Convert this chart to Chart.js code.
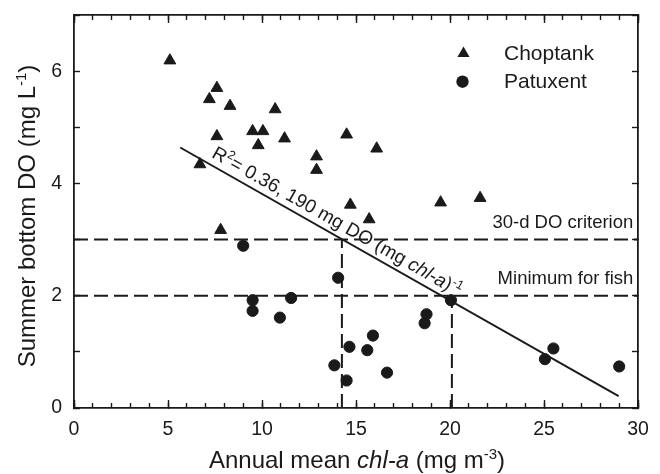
<!DOCTYPE html>
<html><head><meta charset="utf-8">
<script src="https://cdn.jsdelivr.net/npm/chart.js@4/dist/chart.umd.min.js"></script>
<style>html,body{margin:0;padding:0;background:#fff}#wrap{width:660px;height:474px}</style>
</head><body><div id="wrap"><canvas id="c" width="660" height="474"></canvas></div>
<script>
// ---- data ----
const choptankX = [5.1, 7.6, 7.2, 8.3, 10.7, 9.5, 10.05, 7.6, 11.2, 9.8, 14.5, 12.9, 12.9, 6.7, 14.7, 16.1, 19.5, 21.6, 15.7, 7.8];
const choptankY = [6.19, 5.7, 5.5, 5.38, 5.32, 4.93, 4.93, 4.84, 4.8, 4.68, 4.87, 4.48, 4.24, 4.34, 3.62, 4.62, 3.66, 3.74, 3.36, 3.17];
const patuxentX = [9.0, 9.5, 9.5, 11.55, 10.95, 14.05, 14.65, 13.85, 14.5, 15.9, 15.6, 16.65, 18.75, 18.65, 20.05, 25.5, 25.05, 29.0];
const patuxentY = [2.89, 1.92, 1.73, 1.96, 1.61, 2.32, 1.09, 0.76, 0.49, 1.29, 1.03, 0.63, 1.67, 1.51, 1.92, 1.06, 0.87, 0.74];
const fitX = [5.65, 28.97];
const fitY = [4.64, 0.21];
const criterionDO = 3;      // 30-d DO criterion
const fishMinDO = 2;        // minimum for fish
const criterionChl = 14.25; // chl-a where fit reaches criterion
const fishMinChl = 20.1;    // chl-a where fit reaches fish minimum
const xTickLabels = ['0', '5', '10', '15', '20', '25', '30'];
const yTickLabels = ['0', '', '2', '', '4', '', '6', ''];
const seriesNames = ['Choptank', 'Patuxent'];

const INK = '#1a1a1a';
const FONT = "'Liberation Sans', Arial, Helvetica, sans-serif";
Chart.defaults.font.family = FONT;
Chart.defaults.color = INK;

const pts = (xs, ys) => xs.map((x, i) => ({x: x, y: ys[i]}));

function fontStr(s) { return (s.italic ? 'italic ' : '') + s.size + 'px ' + FONT; }
function richText(ctx, segs, x, y, align) {
  let total = 0;
  for (const s of segs) { ctx.font = fontStr(s); s.w = ctx.measureText(s.t).width; total += s.w; }
  let cx = align === 'center' ? x - total / 2 : align === 'right' ? x - total : x;
  ctx.textAlign = 'left'; ctx.textBaseline = 'alphabetic';
  for (const s of segs) { ctx.font = fontStr(s); ctx.fillText(s.t, cx, y - (s.rise || 0)); cx += s.w; }
}

const decor = {
  id: 'decor',
  afterDraw(chart) {
    const ctx = chart.ctx;
    const xs = chart.scales.x, ys = chart.scales.y;
    ctx.save();
    ctx.fillStyle = INK;
    // x title
    richText(ctx, [
      {t: 'Annual mean ', size: 24},
      {t: 'chl-a', size: 24, italic: true},
      {t: ' (mg m', size: 24},
      {t: '-3', size: 15, rise: 9},
      {t: ')', size: 24}
    ], 357, 468, 'center');
    // y title
    ctx.save();
    ctx.translate(35, 216);
    ctx.rotate(-Math.PI / 2);
    richText(ctx, [
      {t: 'Summer bottom DO (mg L', size: 24},
      {t: '-1', size: 15, rise: 9},
      {t: ')', size: 24}
    ], 0, 0, 'center');
    ctx.restore();
    // threshold labels
    const rx = xs.getPixelForValue(29.75);
    richText(ctx, [{t: '30-d DO criterion', size: 18.5}], rx, ys.getPixelForValue(criterionDO) - 11.5, 'right');
    richText(ctx, [{t: 'Minimum for fish', size: 18.5}], rx, ys.getPixelForValue(fishMinDO) - 11.5, 'right');
    // regression label along the line
    const p1x = xs.getPixelForValue(fitX[0]), p1y = ys.getPixelForValue(fitY[0]);
    const p2x = xs.getPixelForValue(fitX[1]), p2y = ys.getPixelForValue(fitY[1]);
    const ang = Math.atan2(p2y - p1y, p2x - p1x);
    const tx = 7.09;
    const ty = fitY[0] + (fitY[1] - fitY[0]) * (tx - fitX[0]) / (fitX[1] - fitX[0]);
    ctx.save();
    ctx.translate(xs.getPixelForValue(tx), ys.getPixelForValue(ty));
    ctx.rotate(ang);
    richText(ctx, [
      {t: 'R', size: 19},
      {t: '2', size: 12.5, rise: 7.5},
      {t: '= 0.36, 190 mg DO (mg ', size: 19},
      {t: 'chl-a', size: 19, italic: true},
      {t: ')', size: 19},
      {t: '-1', size: 12.5, rise: 7.5}
    ], 0, -7, 'left');
    ctx.restore();
    // legend
    ctx.fillStyle = INK;
    const tr = 7, cxL = 463.5, cy1 = 53.5;
    ctx.beginPath();
    ctx.moveTo(cxL, cy1 - tr);
    ctx.lineTo(cxL + tr * Math.sin(2 * Math.PI / 3), cy1 - tr * Math.cos(2 * Math.PI / 3));
    ctx.lineTo(cxL + tr * Math.sin(4 * Math.PI / 3), cy1 - tr * Math.cos(4 * Math.PI / 3));
    ctx.closePath(); ctx.fill();
    ctx.beginPath(); ctx.arc(462.5, 81.7, 6.2, 0, Math.PI * 2); ctx.fill();
    richText(ctx, [{t: seriesNames[0], size: 21}], 504, 60, 'left');
    richText(ctx, [{t: seriesNames[1], size: 21}], 504, 88.3, 'left');
    ctx.restore();
  }
};

const dashed = {borderColor: INK, borderWidth: 2, borderDash: [14, 6], pointRadius: 0, showLine: true, fill: false};

function axis(pos, stepSize, tickLen, weight, showLabels, labels) {
  const horiz = pos === 'top' || pos === 'bottom';
  return {
    type: 'linear', position: pos, min: 0, max: horiz ? 30 : 7, weight: weight,
    grid: {display: true, drawOnChartArea: false, drawTicks: true, tickLength: tickLen, tickColor: INK, tickWidth: 1.4},
    border: {display: false},
    ticks: {display: showLabels, stepSize: stepSize, autoSkip: false, maxTicksLimit: 100, maxRotation: 0,
            color: INK, font: {size: 19.5, family: FONT}, padding: 18,
            callback: labels ? (v, i) => labels[i] : () => ''},
    afterFit: (s) => {
      if (horiz) s.height = showLabels ? 66 : 0; else s.width = showLabels ? 74 : 0;
      s.paddingTop = 0; s.paddingBottom = 0; s.paddingLeft = 0; s.paddingRight = 0;
    }
  };
}
const borderOn = {display: true, color: INK, width: 1.8};
function withBorder(a) { a.border = borderOn; return a; }

new Chart(document.getElementById('c'), {
  type: 'scatter',
  data: {
    datasets: [
      {label: seriesNames[0], data: pts(choptankX, choptankY), pointStyle: 'triangle', pointRadius: 6.8,
       backgroundColor: INK, borderColor: INK, borderWidth: 1},
      {label: seriesNames[1], data: pts(patuxentX, patuxentY), pointStyle: 'circle', pointRadius: 5.6,
       backgroundColor: INK, borderColor: INK, borderWidth: 1},
      {label: 'fit', data: pts(fitX, fitY), showLine: true, pointRadius: 0, borderColor: INK, borderWidth: 2},
      Object.assign({label: 'crit', data: pts([0, 30], [criterionDO, criterionDO])}, dashed),
      Object.assign({label: 'fish', data: pts([0, 30], [fishMinDO, fishMinDO])}, dashed),
      Object.assign({label: 'critV', data: pts([criterionChl, criterionChl], [0, criterionDO])}, dashed),
      Object.assign({label: 'fishV', data: pts([fishMinChl, fishMinChl], [0, fishMinDO])}, dashed)
    ]
  },
  options: {
    responsive: false, animation: false, devicePixelRatio: 1,
    layout: {padding: {left: 0, right: 22, top: 15, bottom: 0}},
    plugins: {legend: {display: false}, tooltip: {enabled: false}},
    scales: {
      x: withBorder(axis('bottom', 5, -8, 1, true, xTickLabels)),
      xMinor: axis('bottom', 1, -5, 0, false, null),
      xTop: withBorder(axis('top', 5, -8, 0, false, null)),
      xTopMinor: axis('top', 1, -5, 1, false, null),
      y: withBorder(axis('left', 1, -6, 0, true, yTickLabels)),
      yRight: withBorder(axis('right', 1, -6, 0, false, null))
    }
  },
  plugins: [decor]
});
</script>
</body></html>
